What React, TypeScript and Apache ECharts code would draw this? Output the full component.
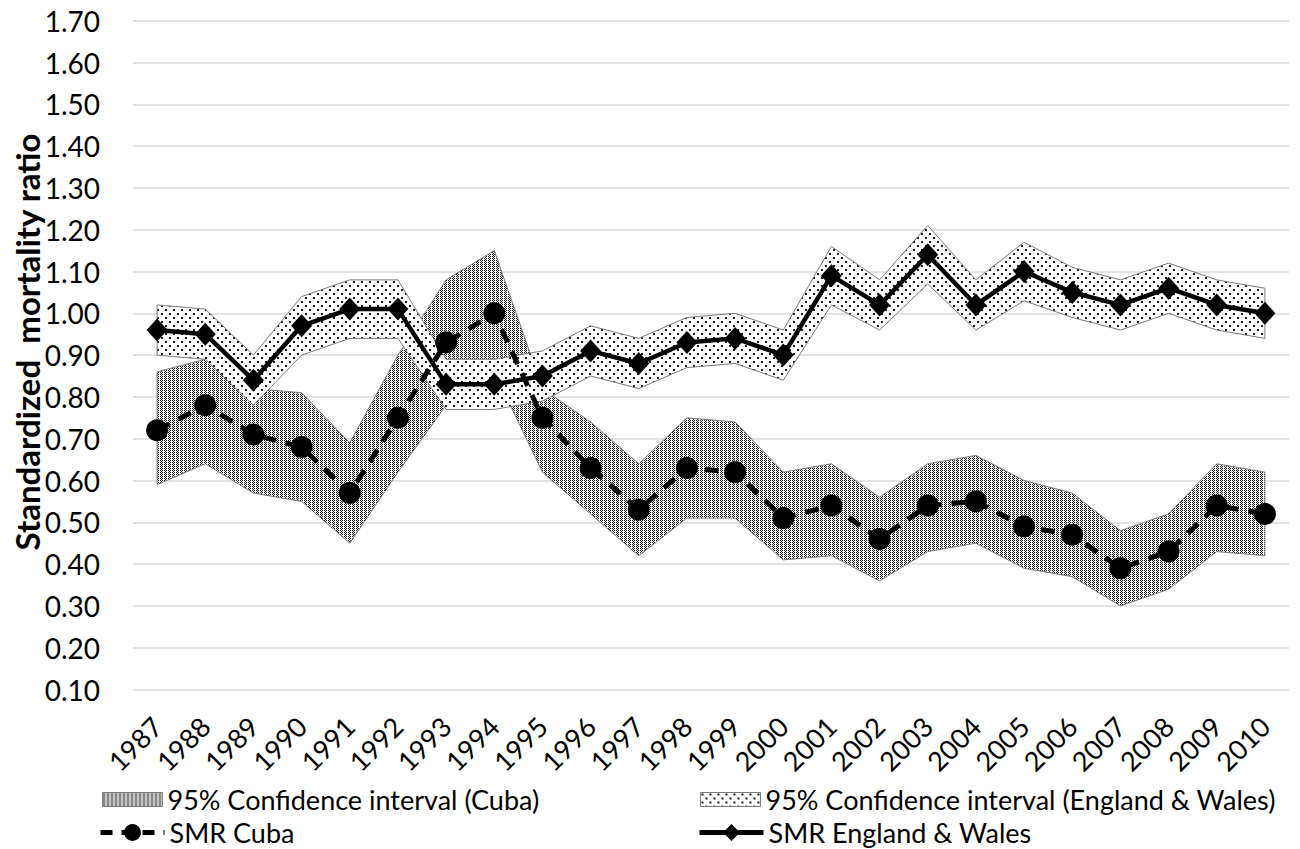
import React, { useEffect, useRef } from "react";
import * as echarts from "echarts";

const years = [
  "1987", "1988", "1989", "1990", "1991", "1992", "1993", "1994", "1995", "1996", "1997", "1998",
  "1999", "2000", "2001", "2002", "2003", "2004", "2005", "2006", "2007", "2008", "2009", "2010",
];

const smrCuba = [0.72, 0.78, 0.71, 0.68, 0.57, 0.75, 0.93, 1.0, 0.75, 0.63, 0.53, 0.63, 0.62, 0.51, 0.54, 0.46, 0.54, 0.55, 0.49, 0.47, 0.39, 0.43, 0.54, 0.52];
const ciCubaUpper = [0.86, 0.89, 0.82, 0.81, 0.69, 0.9, 1.08, 1.15, 0.82, 0.74, 0.64, 0.75, 0.74, 0.62, 0.64, 0.56, 0.64, 0.66, 0.6, 0.57, 0.48, 0.52, 0.64, 0.62];
const ciCubaLower = [0.59, 0.64, 0.57, 0.55, 0.45, 0.62, 0.78, 0.86, 0.62, 0.52, 0.42, 0.51, 0.51, 0.41, 0.42, 0.36, 0.43, 0.45, 0.39, 0.37, 0.3, 0.34, 0.43, 0.42];

const smrEW = [0.96, 0.95, 0.84, 0.97, 1.01, 1.01, 0.83, 0.83, 0.85, 0.91, 0.88, 0.93, 0.94, 0.9, 1.09, 1.02, 1.14, 1.02, 1.1, 1.05, 1.02, 1.06, 1.02, 1.0];
const ciEWUpper = [1.02, 1.01, 0.9, 1.04, 1.08, 1.08, 0.89, 0.89, 0.91, 0.97, 0.94, 0.99, 1.0, 0.96, 1.16, 1.08, 1.21, 1.08, 1.17, 1.11, 1.08, 1.12, 1.08, 1.06];
const ciEWLower = [0.9, 0.89, 0.78, 0.9, 0.94, 0.94, 0.77, 0.77, 0.79, 0.85, 0.82, 0.87, 0.88, 0.84, 1.02, 0.96, 1.07, 0.96, 1.03, 0.99, 0.96, 1.0, 0.96, 0.94];

const yMin = 0.1;
const yMax = 1.7;
const yStep = 0.1;

const NAME_CI_CUBA = "95% Confidence interval (Cuba)";
const NAME_CI_EW = "95% Confidence interval (England & Wales)";
const NAME_SMR_CUBA = "SMR Cuba";
const NAME_SMR_EW = "SMR England & Wales";
const Y_TITLE = "Standardized  mortality ratio";

function makePattern(kind: "dense" | "sparse") {
  const c = document.createElement("canvas");
  const ctx = c.getContext("2d")!;
  if (kind === "dense") {
    c.width = 4;
    c.height = 4;
    ctx.fillStyle = "#ffffff";
    ctx.fillRect(0, 0, 4, 4);
    ctx.fillStyle = "#111111";
    ctx.fillRect(0, 0, 1, 1);
    ctx.fillRect(2, 0, 1, 1);
    ctx.fillRect(0, 2, 1, 1);
    ctx.fillRect(2, 2, 1, 1);
    ctx.fillRect(1, 1, 1, 1);
    ctx.fillRect(1, 3, 1, 1);
  } else {
    c.width = 8;
    c.height = 8;
    ctx.fillStyle = "#ffffff";
    ctx.fillRect(0, 0, 8, 8);
    ctx.fillStyle = "#1a1a1a";
    ctx.fillRect(1, 1, 2, 2);
    ctx.fillRect(5, 5, 2, 2);
  }
  return { image: c, repeat: "repeat", imageWidth: c.width, imageHeight: c.height } as any;
}

export default function App() {
  const ref = useRef<HTMLDivElement>(null);

  useEffect(() => {
    if (!ref.current) return;
    const chart = echarts.init(ref.current, undefined, { renderer: "svg" });
    const dense = makePattern("dense");
    const sparse = makePattern("sparse");
    const font = "Lato";
    const edge = "#7a7a7a";

    const band = (name: string, lower: number[], upper: number[], fill: any) => ({
      type: "custom",
      name,
      silent: true,
      data: years.map((_, i) => [i, lower[i], upper[i]]),
      encode: { x: 0, y: [1, 2] },
      itemStyle: { color: fill, borderColor: edge, borderWidth: 1 },
      renderItem: (params: any, api: any) => {
        if (params.dataIndex !== 0) return null;
        const top = upper.map((v, i) => api.coord([i, v]));
        const bottom = lower.map((v, i) => api.coord([i, v])).reverse();
        return {
          type: "polygon",
          shape: { points: top.concat(bottom) },
          style: { fill, stroke: edge, lineWidth: 1 },
        };
      },
    });

    const legendText = { fontFamily: font, fontSize: 27, color: "#000" };

    chart.setOption({
      animation: false,
      grid: { left: 133, right: 11, top: 20.7, bottom: 159.5, containLabel: false },
      xAxis: {
        type: "category",
        data: years,
        boundaryGap: true,
        axisLine: { show: false },
        axisTick: { show: false },
        axisLabel: {
          interval: 0,
          rotate: 45,
          margin: 32,
          fontFamily: font,
          fontSize: 27,
          color: "#000",
        },
      },
      yAxis: {
        type: "value",
        min: yMin,
        max: yMax,
        interval: yStep,
        axisLine: { show: false },
        axisTick: { show: false },
        axisLabel: {
          margin: 33,
          fontFamily: font,
          fontSize: 28,
          color: "#000",
          formatter: (v: number) => v.toFixed(2),
        },
        splitLine: { lineStyle: { color: "#d9d9d9", width: 1.5 } },
      },
      legend: [
        {
          data: [{ name: NAME_CI_CUBA, icon: "rect", itemStyle: { color: dense, borderColor: edge, borderWidth: 1 } }],
          left: 102, top: 786, itemWidth: 60, itemHeight: 14, padding: 0,
          selectedMode: false, textStyle: legendText,
        },
        {
          data: [{ name: NAME_SMR_CUBA }],
          left: 98, top: 819, itemWidth: 64, itemHeight: 21, padding: 0,
          selectedMode: false, textStyle: legendText,
          lineStyle: { width: 5, type: [12, 9] },
        },
        {
          data: [{ name: NAME_CI_EW, icon: "rect", itemStyle: { color: sparse, borderColor: edge, borderWidth: 1 } }],
          left: 700, top: 786, itemWidth: 60, itemHeight: 14, padding: 0,
          selectedMode: false, textStyle: legendText,
        },
        {
          data: [{ name: NAME_SMR_EW }],
          left: 697, top: 819, itemWidth: 64, itemHeight: 21, padding: 0,
          selectedMode: false, textStyle: legendText,
          lineStyle: { width: 5 },
        },
      ],
      graphic: [
        {
          type: "text",
          x: 27,
          y: 342,
          rotation: Math.PI / 2,
          style: {
            text: Y_TITLE,
            font: `bold 33px ${font}`,
            fill: "#000",
            align: "center",
            verticalAlign: "middle",
          },
        },
      ],
      series: [
        band(NAME_CI_CUBA, ciCubaLower, ciCubaUpper, dense),
        band(NAME_CI_EW, ciEWLower, ciEWUpper, sparse),
        {
          type: "line",
          name: NAME_SMR_CUBA,
          data: smrCuba,
          symbol: "circle",
          symbolSize: 22,
          lineStyle: { color: "#000", width: 5, type: [14, 10] },
          itemStyle: { color: "#000" },
        },
        {
          type: "line",
          name: NAME_SMR_EW,
          data: smrEW,
          symbol: "diamond",
          symbolSize: [21, 23],
          lineStyle: { color: "#000", width: 4.5 },
          itemStyle: { color: "#000" },
        },
      ],
    });

    return () => chart.dispose();
  }, []);

  return (
    <div
      ref={ref}
      style={{ position: "fixed", left: 0, top: 0, width: 1300, height: 849, background: "#fff" }}
    />
  );
}
